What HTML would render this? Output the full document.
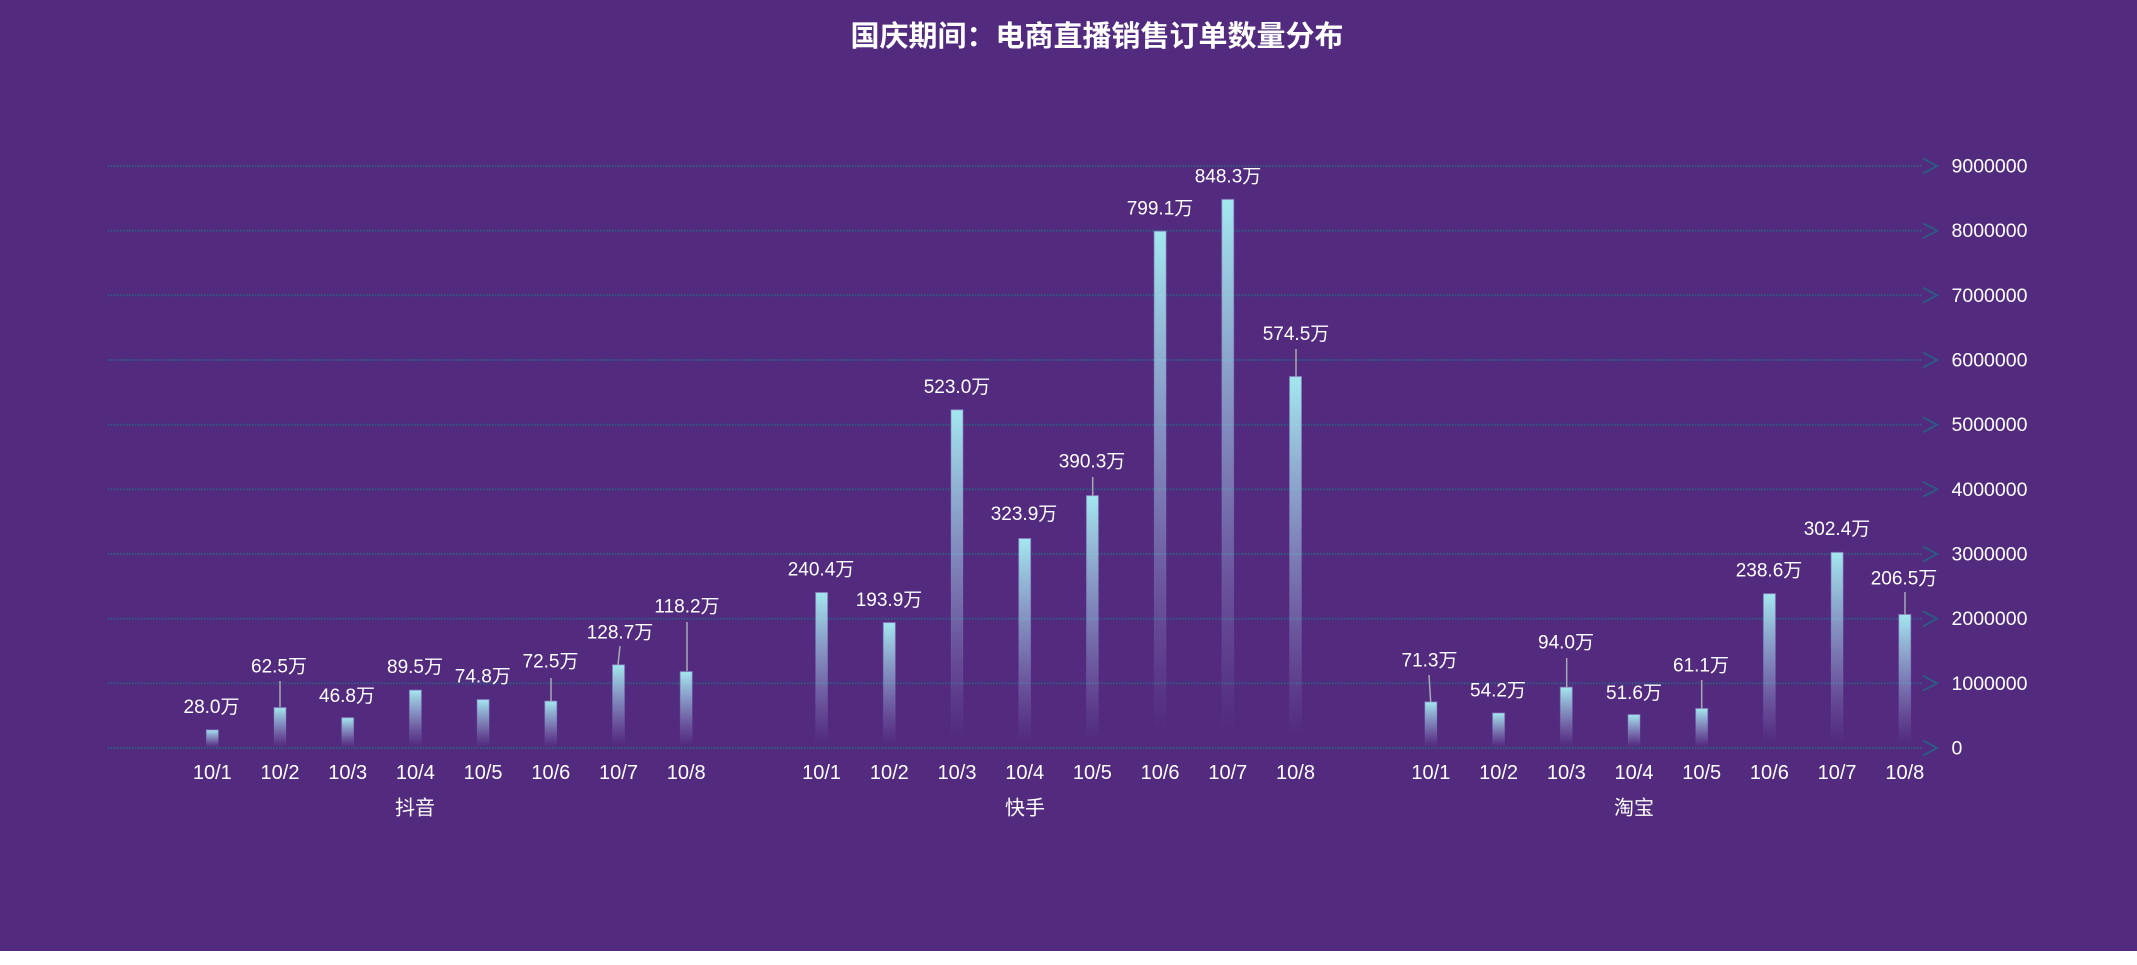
<!DOCTYPE html>
<html>
<head>
<meta charset="utf-8">
<style>
html,body{margin:0;padding:0;background:#ffffff;}
body{width:2137px;height:965px;overflow:hidden;}
svg{display:block;}
text{font-family:"Liberation Sans","Noto Sans CJK SC",sans-serif;}
</style>
</head>
<body>
<svg width="2137" height="965" viewBox="0 0 2137 965" xmlns="http://www.w3.org/2000/svg">
<defs>
<linearGradient id="bg" x1="0" y1="0" x2="0" y2="1">
<stop offset="0" stop-color="#a3e8ee" stop-opacity="1"/>
<stop offset="0.55" stop-color="#a3c8e8" stop-opacity="0.45"/>
<stop offset="0.97" stop-color="#a0a0e0" stop-opacity="0"/>
</linearGradient>
<linearGradient id="bs" x1="0" y1="0" x2="0" y2="1">
<stop offset="0" stop-color="#8a7cc0" stop-opacity="0.7"/>
<stop offset="0.5" stop-color="#8a7cc0" stop-opacity="0.25"/>
<stop offset="1" stop-color="#8a7cc0" stop-opacity="0"/>
</linearGradient>
</defs>
<rect x="0" y="0" width="2137" height="951" fill="#522a7e"/>

<!-- title -->
<text x="1097" y="46" font-size="29" font-weight="bold" fill="#ffffff" text-anchor="middle">国庆期间：电商直播销售订单数量分布</text>

<!-- gridlines -->
<g stroke="#2e5d86" stroke-width="2" stroke-dasharray="1.5 1.5" fill="none">
<line x1="108" y1="748" x2="1922" y2="748"/>
<line x1="108" y1="683.3" x2="1922" y2="683.3"/>
<line x1="108" y1="618.7" x2="1922" y2="618.7"/>
<line x1="108" y1="554" x2="1922" y2="554"/>
<line x1="108" y1="489.3" x2="1922" y2="489.3"/>
<line x1="108" y1="424.7" x2="1922" y2="424.7"/>
<line x1="108" y1="360" x2="1922" y2="360"/>
<line x1="108" y1="295.3" x2="1922" y2="295.3"/>
<line x1="108" y1="230.7" x2="1922" y2="230.7"/>
<line x1="108" y1="166" x2="1922" y2="166"/>
</g>
<g stroke="#2d5a84" stroke-width="2" fill="none">
<polyline points="1923,740.5 1937,748 1923,755.5"/>
<polyline points="1923,675.8 1937,683.3 1923,690.8"/>
<polyline points="1923,611.2 1937,618.7 1923,626.2"/>
<polyline points="1923,546.5 1937,554 1923,561.5"/>
<polyline points="1923,481.8 1937,489.3 1923,496.8"/>
<polyline points="1923,417.2 1937,424.7 1923,432.2"/>
<polyline points="1923,352.5 1937,360 1923,367.5"/>
<polyline points="1923,287.8 1937,295.3 1923,302.8"/>
<polyline points="1923,223.2 1937,230.7 1923,238.2"/>
<polyline points="1923,158.5 1937,166 1923,173.5"/>
</g>

<!-- y labels -->
<g fill="#ffffff" font-size="19.5">
<text x="1951.5" y="754.5">0</text>
<text x="1951.5" y="689.8">1000000</text>
<text x="1951.5" y="625.2">2000000</text>
<text x="1951.5" y="560.5">3000000</text>
<text x="1951.5" y="495.8">4000000</text>
<text x="1951.5" y="431.2">5000000</text>
<text x="1951.5" y="366.5">6000000</text>
<text x="1951.5" y="301.8">7000000</text>
<text x="1951.5" y="237.2">8000000</text>
<text x="1951.5" y="172.5">9000000</text>
</g>

<!-- bars -->
<g fill="url(#bg)" stroke="url(#bs)" stroke-width="1">
<!-- 抖音 -->
<rect x="206.3" y="729.9" width="12" height="18.1"/>
<rect x="274.0" y="707.6" width="12" height="40.4"/>
<rect x="341.7" y="717.7" width="12" height="30.3"/>
<rect x="409.4" y="690.1" width="12" height="57.9"/>
<rect x="477.1" y="699.6" width="12" height="48.4"/>
<rect x="544.8" y="701.1" width="12" height="46.9"/>
<rect x="612.5" y="664.8" width="12" height="83.2"/>
<rect x="680.2" y="671.6" width="12" height="76.4"/>
<!-- 快手 -->
<rect x="815.6" y="592.5" width="12" height="155.5"/>
<rect x="883.3" y="622.6" width="12" height="125.4"/>
<rect x="951.0" y="409.8" width="12" height="338.2"/>
<rect x="1018.7" y="538.5" width="12" height="209.5"/>
<rect x="1086.4" y="495.6" width="12" height="252.4"/>
<rect x="1154.1" y="231.2" width="12" height="516.8"/>
<rect x="1221.8" y="199.4" width="12" height="548.6"/>
<rect x="1289.5" y="376.5" width="12" height="371.5"/>
<!-- 淘宝 -->
<rect x="1424.9" y="701.9" width="12" height="46.1"/>
<rect x="1492.6" y="713.0" width="12" height="35.0"/>
<rect x="1560.3" y="687.2" width="12" height="60.8"/>
<rect x="1628.0" y="714.6" width="12" height="33.4"/>
<rect x="1695.7" y="708.5" width="12" height="39.5"/>
<rect x="1763.4" y="593.7" width="12" height="154.3"/>
<rect x="1831.1" y="552.4" width="12" height="195.6"/>
<rect x="1898.8" y="614.5" width="12" height="133.5"/>
</g>

<!-- leader lines -->
<g stroke="#a9a9b4" stroke-width="1.5" fill="none">
<line x1="280" y1="681" x2="280" y2="707"/>
<line x1="551" y1="678" x2="551" y2="701"/>
<line x1="620" y1="646" x2="618" y2="665"/>
<line x1="687" y1="622" x2="687" y2="671"/>
<line x1="1092.7" y1="477" x2="1092.7" y2="496"/>
<line x1="1296" y1="349" x2="1296" y2="377"/>
<line x1="1429" y1="675" x2="1430.7" y2="702"/>
<line x1="1566.7" y1="658" x2="1566.7" y2="688"/>
<line x1="1701.7" y1="680" x2="1701.7" y2="709"/>
<line x1="1905" y1="592" x2="1905" y2="615"/>
</g>

<!-- value labels -->
<g fill="#ffffff" font-size="19" text-anchor="middle">
<text x="211.5" y="713">28.0万</text>
<text x="279" y="672.5">62.5万</text>
<text x="347" y="702">46.8万</text>
<text x="415" y="673">89.5万</text>
<text x="482.8" y="682.5">74.8万</text>
<text x="550.5" y="667.5">72.5万</text>
<text x="620" y="638.5">128.7万</text>
<text x="687" y="612.5">118.2万</text>

<text x="821" y="575.5">240.4万</text>
<text x="889" y="606">193.9万</text>
<text x="957" y="393">523.0万</text>
<text x="1024" y="520">323.9万</text>
<text x="1092" y="467.5">390.3万</text>
<text x="1160" y="214.5">799.1万</text>
<text x="1228" y="182.5">848.3万</text>
<text x="1296" y="340">574.5万</text>

<text x="1429.5" y="666.5">71.3万</text>
<text x="1498" y="696.5">54.2万</text>
<text x="1566" y="648.5">94.0万</text>
<text x="1634" y="699">51.6万</text>
<text x="1701" y="671.5">61.1万</text>
<text x="1769" y="576.5">238.6万</text>
<text x="1837" y="535">302.4万</text>
<text x="1904" y="584.5">206.5万</text>
</g>

<!-- x axis labels -->
<g fill="#ffffff" font-size="20" text-anchor="middle">
<text x="212.3" y="779">10/1</text>
<text x="280.0" y="779">10/2</text>
<text x="347.7" y="779">10/3</text>
<text x="415.4" y="779">10/4</text>
<text x="483.1" y="779">10/5</text>
<text x="550.8" y="779">10/6</text>
<text x="618.5" y="779">10/7</text>
<text x="686.2" y="779">10/8</text>

<text x="821.6" y="779">10/1</text>
<text x="889.3" y="779">10/2</text>
<text x="957.0" y="779">10/3</text>
<text x="1024.7" y="779">10/4</text>
<text x="1092.4" y="779">10/5</text>
<text x="1160.1" y="779">10/6</text>
<text x="1227.8" y="779">10/7</text>
<text x="1295.5" y="779">10/8</text>

<text x="1430.9" y="779">10/1</text>
<text x="1498.6" y="779">10/2</text>
<text x="1566.3" y="779">10/3</text>
<text x="1634.0" y="779">10/4</text>
<text x="1701.7" y="779">10/5</text>
<text x="1769.4" y="779">10/6</text>
<text x="1837.1" y="779">10/7</text>
<text x="1904.8" y="779">10/8</text>

<text x="415" y="814.5">抖音</text>
<text x="1025" y="814.5">快手</text>
<text x="1634" y="814.5">淘宝</text>
</g>
</svg>
</body>
</html>
